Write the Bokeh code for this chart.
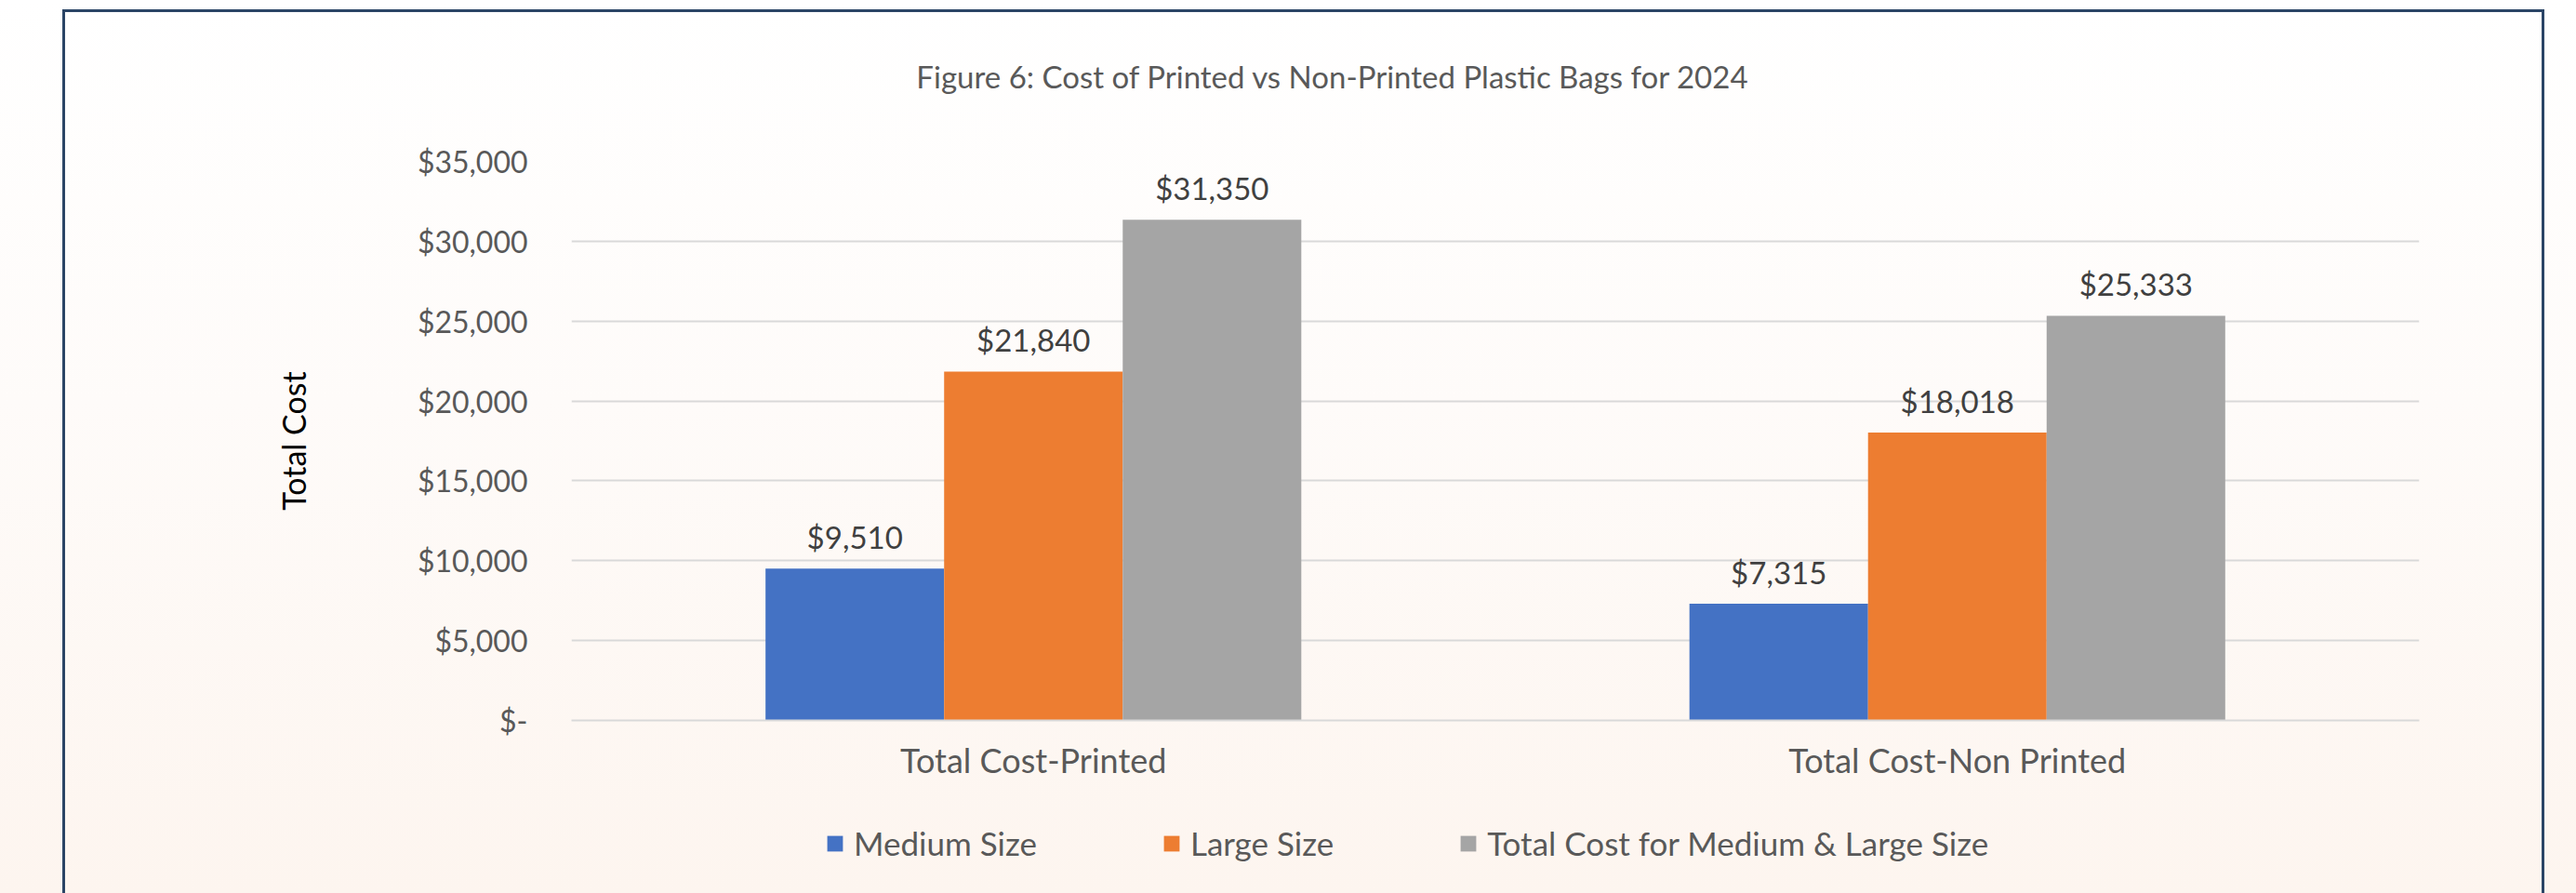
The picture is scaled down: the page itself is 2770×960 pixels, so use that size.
from bokeh.plotting import figure
from bokeh.layouts import column
from bokeh.models import (ColumnDataSource, FactorRange, Range1d, FixedTicker,
                          Legend, LegendItem, LabelSet, Label)
from bokeh.transform import dodge
from bokeh.core.properties import value
from bokeh.embed import file_html
from bokeh.resources import INLINE

# ---------------- data ----------------
categories = ["Total Cost-Printed", "Total Cost-Non Printed"]
series_names = ["Medium Size", "Large Size", "Total Cost for Medium & Large Size"]
medium = [9510, 7315]
large = [21840, 18018]
total = [31350, 25333]
y_ticks = [0, 5000, 10000, 15000, 20000, 25000, 30000, 35000]
y_tick_labels = ["$-", "$5,000", "$10,000", "$15,000", "$20,000", "$25,000", "$30,000", "$35,000"]
title_text = "Figure 6: Cost of Printed vs Non-Printed Plastic Bags for 2024"
y_title = "Total Cost"

# ---------------- style ----------------
FONT = "Lato"
colors = ["#4472C4", "#ED7D31", "#A5A5A5"]
TXT = "#595959"
BORDER = "#2b4566"
W = 2770
H_TITLE, H_MAIN, H_LEG = 125, 745, 90
FRAME_L, FRAME_R = 614, 2601
bw = 0.1933


def bare(fig):
    fig.border_fill_color = None
    fig.background_fill_color = None
    fig.outline_line_color = None
    return fig


src = ColumnDataSource(dict(
    cat=categories, medium=medium, large=large, total=total,
    medium_lbl=[f"${v:,}" for v in medium],
    large_lbl=[f"${v:,}" for v in large],
    total_lbl=[f"${v:,}" for v in total],
))
xr = FactorRange(*categories, range_padding=0)
keys = ["medium", "large", "total"]
offsets = [-bw, 0, bw]

# ---------------- title strip ----------------
pt = bare(figure(width=W, height=H_TITLE, x_range=Range1d(FRAME_L, FRAME_R),
                 y_range=Range1d(0, H_TITLE),
                 x_axis_type=None, y_axis_type=None, title=None,
                 output_backend="svg", toolbar_location=None,
                 min_border_left=FRAME_L, min_border_right=W - FRAME_R,
                 min_border_top=0, min_border_bottom=0))
pt.xgrid.visible = False
pt.ygrid.visible = False
pt.add_layout(Label(x=1433, y=44, text=title_text, text_align="center",
                    text_baseline="alphabetic", text_font=FONT,
                    text_font_size="33px", text_color=TXT))

# ---------------- main chart ----------------
p = bare(figure(width=W, height=H_MAIN, title=None,
                x_range=xr, y_range=Range1d(0, 35000),
                output_backend="svg", toolbar_location=None,
                min_border_left=FRAME_L, min_border_right=W - FRAME_R,
                min_border_top=48, min_border_bottom=96))

for k, off, col in zip(keys, offsets, colors):
    p.vbar(x=dodge("cat", off, range=xr), top=k, width=bw,
           source=src, fill_color=col, line_color=None)
    p.add_layout(LabelSet(x=dodge("cat", off, range=xr), y=k, text=k + "_lbl",
                          source=src, text_align="center", text_baseline="alphabetic",
                          y_offset=21, text_font=value(FONT), text_font_size="33px",
                          text_color="#404040"))

yax = p.yaxis[0]
yax.ticker = FixedTicker(ticks=y_ticks)
yax.major_label_overrides = {t: l for t, l in zip(y_ticks, y_tick_labels)}
yax.axis_line_color = None
yax.major_tick_line_color = None
yax.minor_tick_line_color = None
yax.major_tick_out = 0
yax.major_tick_in = 0
yax.minor_tick_out = 0
yax.minor_tick_in = 0
yax.major_label_standoff = 47
yax.major_label_text_font = FONT
yax.major_label_text_font_size = "32px"
yax.major_label_text_color = TXT
yax.axis_label = y_title
yax.axis_label_text_font = FONT
yax.axis_label_text_font_size = "34px"
yax.axis_label_text_font_style = "normal"
yax.axis_label_text_color = "#000000"
yax.axis_label_standoff = 110

xax = p.xaxis[0]
xax.axis_line_color = "#d9d9d9"
xax.axis_line_width = 2
xax.major_tick_line_color = None
xax.minor_tick_line_color = None
xax.major_tick_out = 0
xax.major_tick_in = 0
xax.major_label_standoff = 20
xax.major_label_text_font = FONT
xax.major_label_text_font_size = "36px"
xax.major_label_text_color = TXT

p.xgrid.grid_line_color = None
p.ygrid.grid_line_color = "#d9d9d9"
p.ygrid.grid_line_width = 2

# ---------------- legend strip ----------------
pl = bare(figure(width=W, height=H_LEG, x_range=xr, y_range=Range1d(0, 1),
                 x_axis_type=None, y_axis_type=None, title=None,
                 output_backend="svg", toolbar_location=None,
                 min_border_left=FRAME_L, min_border_right=W - FRAME_R,
                 min_border_top=0, min_border_bottom=0))
pl.xgrid.visible = False
pl.ygrid.visible = False
leg_renderers = []
for k, off, col in zip(keys, offsets, colors):
    r = pl.vbar(x=dodge("cat", off, range=xr), top=k, width=bw, source=src,
                fill_color=col, line_color=None, visible=False)
    leg_renderers.append(r)
legend = Legend(items=[LegendItem(label=n, renderers=[r]) for n, r in zip(series_names, leg_renderers)],
                orientation="horizontal", location=(887 - FRAME_L, 33),
                spacing=134, padding=0, margin=0,
                glyph_width=21, glyph_height=21, label_standoff=10,
                label_text_font=FONT, label_text_font_size="35px",
                label_text_color=TXT,
                inactive_fill_alpha=0,
                border_line_color=None, background_fill_alpha=0)
pl.add_layout(legend, "center")

bg = ("linear-gradient({c},{c}), linear-gradient({c},{c}), linear-gradient({c},{c}), "
      "linear-gradient(180deg, #ffffff 0%, #fefbf9 45%, #fdf5ef 100%)").format(c=BORDER)
layout = column(pt, p, pl, spacing=0, styles={
    "background-image": bg,
    "background-size": "3px 100%, 2669px 3px, 3px 100%, 100% 100%",
    "background-position": "67px 10px, 67px 10px, 2733px 10px, 0px 0px",
    "background-repeat": "no-repeat",
})

open("out.html", "w").write(file_html(layout, INLINE))
